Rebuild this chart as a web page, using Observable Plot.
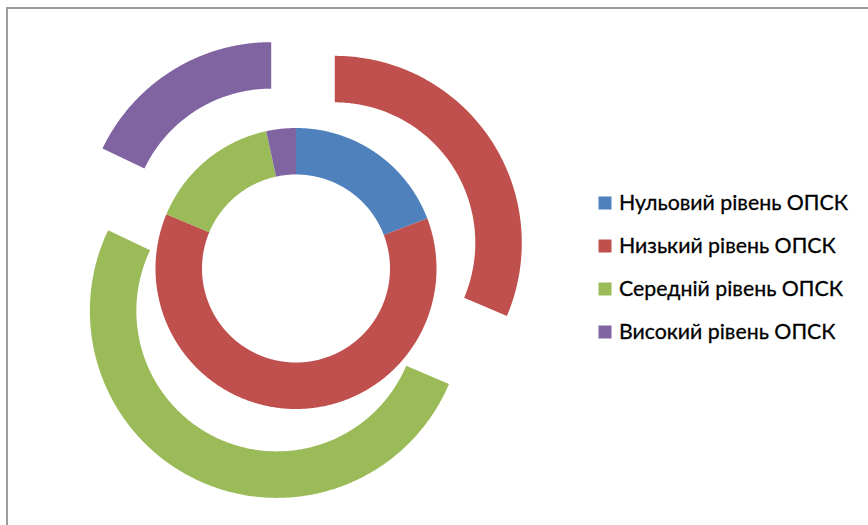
<!DOCTYPE html>
<html>
<head>
<meta charset="utf-8">
<script src="https://cdn.jsdelivr.net/npm/d3@7"></script>
<script src="https://cdn.jsdelivr.net/npm/@observablehq/plot@0.6"></script>
<style>
  html, body { margin: 0; padding: 0; background: #fff; }
  #wrap { position: relative; width: 868px; height: 525px; overflow: hidden; }
  #frame { position: absolute; left: 6px; top: 7px; right: -10px; bottom: -10px;
           border-left: 2px solid #9c9c9c; border-top: 2px solid #9c9c9c; pointer-events: none; }
  #chart { position: absolute; left: 0; top: 0; }
</style>
</head>
<body>
<div id="wrap"><div id="chart"></div><div id="frame"></div></div>
<script>
// Levels of the indicator (legend order = slice order, clockwise from 12 o'clock)
const categories = ["Нульовий рівень ОПСК", "Низький рівень ОПСК", "Середній рівень ОПСК", "Високий рівень ОПСК"];
// Inner ring (first series), percent
const innerValues = [19.2, 62.1, 15.3, 3.4];
// Outer ring (second series), percent
const outerValues = [0, 31.4, 50.7, 17.9];
const colors = ["#4F81BD", "#C0504D", "#9BBB59", "#8064A2"];

// Doughnut geometry (pixels)
const cx = 295.5, cy = 268;
const hole = 94, ringWidth = 46.5, explode = 46.5;

// Turn one ring's values into closed annular-sector outlines
function ringPolygons(values, ringIndex, offset) {
  const pie = d3.pie().sort(null).value(d => d)(values);
  const r0 = hole + ringIndex * ringWidth;
  const r1 = r0 + ringWidth;
  const pts = [];
  pie.forEach((p, i) => {
    if (p.endAngle - p.startAngle <= 0) return;
    const mid = (p.startAngle + p.endAngle) / 2;
    const ox = offset * Math.sin(mid), oy = -offset * Math.cos(mid);
    const n = Math.max(2, Math.ceil((p.endAngle - p.startAngle) / (Math.PI / 360)));
    const id = `r${ringIndex}-${i}`;
    const push = (a, r) => pts.push({id, cat: categories[i],
      x: cx + ox + r * Math.sin(a), y: cy + oy - r * Math.cos(a)});
    for (let k = 0; k <= n; k++) push(p.startAngle + (p.endAngle - p.startAngle) * k / n, r1);
    for (let k = n; k >= 0; k--) push(p.startAngle + (p.endAngle - p.startAngle) * k / n, r0);
  });
  return pts;
}

const slices = [...ringPolygons(innerValues, 0, 0), ...ringPolygons(outerValues, 1, explode)];

const legendX = 604.5, legendTextX = 618.5, legendY0 = 202.5, legendStep = 43;

const chart = Plot.plot({
  width: 868,
  height: 525,
  margin: 0,
  x: {domain: [0, 868], range: [0, 868], axis: null},
  y: {domain: [0, 525], range: [0, 525], axis: null},
  color: {domain: categories, range: colors},
  style: {fontFamily: "Lato, 'Open Sans', sans-serif", background: "transparent"},
  marks: [
    Plot.line(slices, {x: "x", y: "y", z: "id", fill: "cat", stroke: "none", curve: "linear-closed"}),
    Plot.dot(categories, {
      x: () => legendX, y: (d, i) => legendY0 + i * legendStep,
      symbol: "square", r: 13 / Math.sqrt(Math.PI), fill: d => d, stroke: "none"
    }),
    Plot.text(categories, {
      x: () => legendTextX, y: (d, i) => legendY0 + i * legendStep,
      text: d => d, textAnchor: "start", fontSize: 21.3, fill: "#000",
      stroke: "#000", strokeWidth: 0.3
    })
  ]
});
document.getElementById("chart").appendChild(chart);
</script>
</body>
</html>
